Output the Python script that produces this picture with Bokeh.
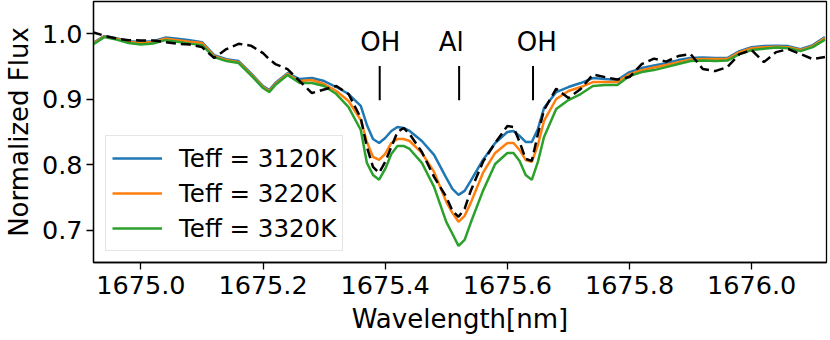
from bokeh.plotting import figure
from bokeh.models import FixedTicker, PrintfTickFormatter, Legend, LegendItem, ColumnDataSource
from bokeh.core.properties import value
from bokeh.embed import file_html
from bokeh.resources import INLINE

wavelength = [1674.92, 1674.94, 1674.96, 1674.98, 1675.00, 1675.02, 1675.04, 1675.06, 1675.08, 1675.10,
              1675.12, 1675.14, 1675.16, 1675.18, 1675.20, 1675.21, 1675.22, 1675.24, 1675.26, 1675.28,
              1675.30, 1675.32, 1675.34, 1675.36, 1675.37, 1675.38, 1675.39, 1675.40, 1675.41, 1675.42,
              1675.43, 1675.44, 1675.46, 1675.48, 1675.50, 1675.51, 1675.52, 1675.53, 1675.54, 1675.56,
              1675.58, 1675.60, 1675.61, 1675.62, 1675.63, 1675.64, 1675.65, 1675.66, 1675.68, 1675.70,
              1675.72, 1675.74, 1675.76, 1675.78, 1675.80, 1675.82, 1675.84, 1675.86, 1675.88, 1675.90,
              1675.92, 1675.94, 1675.96, 1675.98, 1676.00, 1676.02, 1676.04, 1676.06, 1676.08, 1676.10,
              1676.12]

flux_3120 = [0.9852, 0.9966, 0.9936, 0.9890, 0.9875, 0.9890, 0.9944, 0.9928, 0.9905, 0.9875,
             0.9676, 0.9615, 0.9585, 0.9401, 0.9203, 0.9142, 0.9249, 0.9401, 0.9310, 0.9325,
             0.9279, 0.9188, 0.9081, 0.8900, 0.8608, 0.8394, 0.8333, 0.8409, 0.8516, 0.8577,
             0.8562, 0.8516, 0.8363, 0.8150, 0.7798, 0.7630, 0.7539, 0.7600, 0.7753, 0.8073,
             0.8333, 0.8501, 0.8516, 0.8440, 0.8348, 0.8348, 0.8547, 0.8867, 0.9111, 0.9188,
             0.9249, 0.9325, 0.9310, 0.9295, 0.9417, 0.9478, 0.9516, 0.9554, 0.9600, 0.9631,
             0.9638, 0.9631, 0.9631, 0.9737, 0.9798, 0.9814, 0.9821, 0.9814, 0.9768, 0.9829,
             0.9951]

flux_3220 = [0.9844, 0.9959, 0.9928, 0.9875, 0.9860, 0.9875, 0.9928, 0.9905, 0.9882, 0.9860,
             0.9661, 0.9600, 0.9569, 0.9386, 0.9188, 0.9127, 0.9234, 0.9386, 0.9279, 0.9295,
             0.9234, 0.9127, 0.8974, 0.8684, 0.8348, 0.8119, 0.8073, 0.8165, 0.8333, 0.8394,
             0.8394, 0.8363, 0.8180, 0.7890, 0.7432, 0.7264, 0.7127, 0.7218, 0.7417, 0.7875,
             0.8180, 0.8333, 0.8333, 0.8226, 0.8073, 0.8043, 0.8302, 0.8669, 0.9005, 0.9127,
             0.9188, 0.9264, 0.9264, 0.9264, 0.9386, 0.9447, 0.9486, 0.9524, 0.9569, 0.9608,
             0.9615, 0.9615, 0.9615, 0.9722, 0.9783, 0.9798, 0.9806, 0.9798, 0.9753, 0.9814,
             0.9936]

flux_3320 = [0.9829, 0.9951, 0.9913, 0.9860, 0.9837, 0.9852, 0.9905, 0.9882, 0.9852, 0.9829,
             0.9646, 0.9585, 0.9554, 0.9371, 0.9173, 0.9111, 0.9218, 0.9371, 0.9249, 0.9249,
             0.9203, 0.9081, 0.8882, 0.8531, 0.8028, 0.7844, 0.7772, 0.7936, 0.8165, 0.8287,
             0.8287, 0.8241, 0.8028, 0.7661, 0.7127, 0.6944, 0.6760, 0.6852, 0.7112, 0.7600,
             0.8012, 0.8180, 0.8180, 0.8058, 0.7844, 0.7768, 0.8043, 0.8425, 0.8852, 0.8989,
             0.9081, 0.9203, 0.9218, 0.9218, 0.9356, 0.9417, 0.9447, 0.9493, 0.9539, 0.9585,
             0.9592, 0.9585, 0.9592, 0.9692, 0.9753, 0.9775, 0.9791, 0.9783, 0.9737, 0.9798,
             0.9913]

flux_observed = [1.0028, 0.9974, 0.9928, 0.9905, 0.9901, 0.9898, 0.9875, 0.9849, 0.9837, 0.9798,
                 0.9631, 0.9768, 0.9849, 0.9821, 0.9707, 0.9615, 0.9539, 0.9463, 0.9279, 0.9096,
                 0.9150, 0.9203, 0.9081, 0.8715, 0.8272, 0.7966, 0.7875, 0.8043, 0.8272, 0.8501,
                 0.8562, 0.8470, 0.8195, 0.7814, 0.7508, 0.7295, 0.7203, 0.7325, 0.7600, 0.8043,
                 0.8333, 0.8593, 0.8577, 0.8348, 0.8089, 0.8058, 0.8470, 0.8837, 0.9162, 0.9020,
                 0.9157, 0.9379, 0.9340, 0.9302, 0.9340, 0.9539, 0.9623, 0.9577, 0.9661, 0.9692,
                 0.9463, 0.9432, 0.9493, 0.9692, 0.9753, 0.9569, 0.9722, 0.9768, 0.9692, 0.9615,
                 0.9646]

series_labels = ["Teff = 3120K", "Teff = 3220K", "Teff = 3320K"]
series_colors = ["#1f77b4", "#ff7f0e", "#2ca02c"]

line_labels = ["OH", "Al", "OH"]
line_label_x = [1675.392, 1675.508, 1675.648]
line_marker_x = [1675.391, 1675.521, 1675.642]
marker_bottom = 0.8985
marker_top = 0.9508
label_y = 0.9875

x_ticks = [1675.0, 1675.2, 1675.4, 1675.6, 1675.8, 1676.0]
y_ticks = [0.7, 0.8, 0.9, 1.0]

FONT = "DejaVu Sans"

p = figure(frame_width=733, frame_height=261, min_border_left=85, min_border_right=4,
           min_border_top=1, min_border_bottom=70,
           x_range=(1674.9224, 1676.1225), y_range=(0.6505, 1.0496),
           output_backend="svg", toolbar_location=None)
p.background_fill_color = "white"
p.border_fill_color = "white"
p.outline_line_color = "black"
p.outline_line_width = 1.3
p.xgrid.visible = False
p.ygrid.visible = False

renderers = []
for flux, col in zip([flux_3120, flux_3220, flux_3320], series_colors):
    r = p.line(wavelength, flux, line_color=col, line_width=2.5)
    renderers.append(r)
p.line(wavelength, flux_observed, line_color="black", line_width=2.5, line_dash="10 5")

src = ColumnDataSource(dict(x=line_label_x, y=[label_y] * 3, t=line_labels))
p.text(x="x", y="y", text="t", source=src, text_align="center", text_baseline="alphabetic",
       text_font=value(FONT), text_font_size="26px", text_color="black")
p.segment(x0=line_marker_x, x1=line_marker_x, y0=[marker_bottom] * 3, y1=[marker_top] * 3,
          line_color="black", line_width=2)

legend = Legend(items=[LegendItem(label=l, renderers=[r]) for l, r in zip(series_labels, renderers)],
                location=(12, 11))
legend.label_text_font = FONT
legend.label_text_font_size = "24.5px"
legend.label_text_color = "black"
legend.glyph_width = 50
legend.glyph_height = 32
legend.label_height = 32
legend.label_standoff = 17
legend.spacing = 3
legend.padding = 6
legend.margin = 0
legend.border_line_color = "#cccccc"
legend.border_line_width = 1.2
legend.background_fill_alpha = 0.85
p.add_layout(legend)

for ax in (p.xaxis, p.yaxis):
    ax.major_label_text_font = FONT
    ax.major_label_text_font_size = "25.5px"
    ax.major_label_text_color = "black"
    ax.axis_label_text_font = FONT
    ax.axis_label_text_font_size = "26px"
    ax.axis_label_text_font_style = "normal"
    ax.axis_label_text_color = "black"
    ax.major_tick_out = 7
    ax.major_tick_in = 0
    ax.minor_tick_line_color = None
    ax.major_tick_line_color = "black"
    ax.major_tick_line_width = 1.3
    ax.axis_line_color = "black"
    ax.axis_line_width = 1.3

p.xaxis.ticker = FixedTicker(ticks=x_ticks)
p.yaxis.ticker = FixedTicker(ticks=y_ticks)
p.xaxis.formatter = PrintfTickFormatter(format="%.1f")
p.yaxis.formatter = PrintfTickFormatter(format="%.1f")
p.xaxis.axis_label = "Wavelength[nm]"
p.yaxis.axis_label = "Normalized Flux"
p.xaxis.major_label_standoff = 6
p.yaxis.major_label_standoff = 4
p.xaxis.axis_label_standoff = 7
p.yaxis.axis_label_standoff = 5

open("out.html", "w").write(file_html(p, INLINE))
